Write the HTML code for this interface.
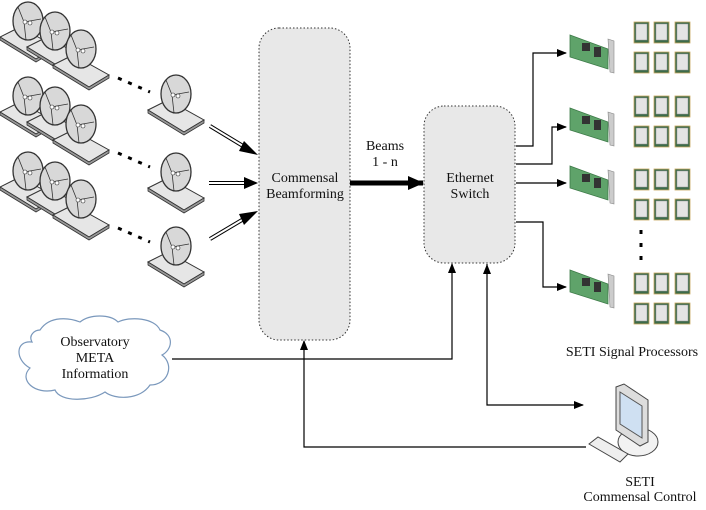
<!DOCTYPE html>
<html><head><style>body{margin:0;background:#fff}svg{display:block}text{font-family:"Liberation Serif",serif;font-size:14px;fill:#111}</style></head><body>
<svg width="706" height="510" viewBox="0 0 706 510" xmlns="http://www.w3.org/2000/svg">
<defs>
<marker id="ah" markerWidth="10" markerHeight="8" refX="9" refY="4" orient="auto" markerUnits="userSpaceOnUse"><path d="M0,0 L10,4 L0,8 z" fill="#000"/></marker>
<marker id="ahb" markerWidth="16" markerHeight="14" refX="15" refY="7" orient="auto" markerUnits="userSpaceOnUse"><path d="M0,0 L16,7 L0,14 z" fill="#000"/></marker>
<g id="dish">
<path d="M-28,12 L-8,2 L28,22 L8,34 z" fill="#e6e6e6" stroke="#333" stroke-width="1"/>
<path d="M-28,12 L-28,15 L8,37 L28,25 L28,22 L8,34 z" fill="#999" stroke="#333" stroke-width="0.8"/>
<ellipse cx="0" cy="-4" rx="15" ry="19" fill="#d8d8d8" stroke="#333" stroke-width="1.3"/>
<path d="M-4,-3 L-10,-18 M-4,-3 L13,-6 M-4,-3 L-2,15" stroke="#333" fill="none" stroke-width="0.8"/>
<circle cx="-3" cy="-3" r="2" fill="#fff" stroke="#333" stroke-width="0.6"/><circle cx="2" cy="-2" r="2" fill="#fff" stroke="#333" stroke-width="0.6"/>
</g>
<g id="grp"><use href="#dish" x="28" y="25"/><use href="#dish" x="55" y="35"/><use href="#dish" x="81" y="53"/>
<path d="M118,78 L150,92" stroke="#000" stroke-width="3" stroke-dasharray="4,7"/></g>
<g id="chip"><rect x="0" y="0" width="15" height="21" fill="#3c6b4a" stroke="#c9a860" stroke-width="0.8"/><rect x="2" y="2" width="11" height="16" fill="#e4e4e4" stroke="#999" stroke-width="0.5"/></g>
<g id="chips"><use href="#chip" x="0" y="0"/><use href="#chip" x="20" y="0"/><use href="#chip" x="41" y="0"/><use href="#chip" x="0" y="30"/><use href="#chip" x="20" y="30"/><use href="#chip" x="41" y="30"/></g>
<g id="card"><path d="M0,0 L38,14 L38,34 L0,22 z" fill="#5fa36a" stroke="#3d7a48" stroke-width="0.8"/><rect x="12" y="8" width="8" height="8" fill="#333"/><rect x="24" y="12" width="7" height="10" fill="#333"/><path d="M38,4 L44,6 L44,38 L40,37 z" fill="#ccc" stroke="#888" stroke-width="0.6"/></g>
</defs>

<use href="#grp" x="0" y="0"/><use href="#dish" x="176" y="98"/>
<use href="#grp" x="0" y="75"/><use href="#dish" x="176" y="176"/>
<use href="#grp" x="0" y="150"/><use href="#dish" x="176" y="250"/>

<g stroke="#000" stroke-width="4" fill="none"><path d="M210,126 L248,149"/><path d="M209,183 L246,183"/><path d="M210,239 L247,217"/></g>
<g stroke="#fff" stroke-width="2" fill="none"><path d="M210,126 L248,149"/><path d="M209,183 L246,183"/><path d="M210,239 L247,217"/></g>
<path d="M244,141 L258,155 L239,151 z M244,177 L258,183 L244,189 z M239,214 L258,211 L244,225 z" fill="#000"/>

<rect x="259" y="28" width="91" height="312" rx="20" fill="#e8e8e8" stroke="#333" stroke-dasharray="1.5,2"/>
<text x="305" y="182" text-anchor="middle">Commensal</text><text x="305" y="198" text-anchor="middle">Beamforming</text>
<text x="385" y="150" text-anchor="middle">Beams</text><text x="385" y="166" text-anchor="middle">1 - n</text>
<line x1="350" y1="183" x2="423" y2="183" stroke="#000" stroke-width="5" marker-end="url(#ahb)"/>
<rect x="424" y="106" width="91" height="157" rx="20" fill="#e8e8e8" stroke="#333" stroke-dasharray="1.5,2"/>
<text x="470" y="182" text-anchor="middle">Ethernet</text><text x="470" y="198" text-anchor="middle">Switch</text>

<g stroke="#000" stroke-width="1.2" fill="none">
<path d="M516,146 L533,146 L533,53 L566,53" marker-end="url(#ah)"/>
<path d="M516,164 L552,164 L552,127 L566,127" marker-end="url(#ah)"/>
<path d="M516,183 L566,183" marker-end="url(#ah)"/>
<path d="M516,222 L543,222 L543,287 L566,287" marker-end="url(#ah)"/>
<path d="M172,359 L452,359 L452,264" marker-end="url(#ah)"/>
<path d="M586,447 L304,447 L304,341" marker-end="url(#ah)"/>
<path d="M487,264 L487,405 L583,405" marker-end="url(#ah)"/>
</g>
<path d="M483,274 L487,264 L491,274 z" fill="#000"/>

<use href="#card" x="570" y="35"/><use href="#card" x="570" y="108"/><use href="#card" x="570" y="166"/><use href="#card" x="570" y="270"/>
<use href="#chips" x="634" y="22"/><use href="#chips" x="634" y="96"/><use href="#chips" x="634" y="169"/><use href="#chips" x="634" y="273"/>
<line x1="641" y1="230" x2="641" y2="266" stroke="#000" stroke-width="3" stroke-dasharray="4,9"/>
<text x="632" y="356" text-anchor="middle">SETI Signal Processors</text>

<path d="M40,330 C50,315 70,318 80,322 C90,314 110,314 118,322 C130,316 155,318 160,330 C175,335 172,350 162,355 C175,365 168,385 150,385 C140,400 115,400 105,392 C90,402 60,402 55,390 C35,395 18,380 30,368 C15,360 15,340 32,342 C28,335 35,330 40,330 z" fill="#fff" stroke="#7a98bc" stroke-width="1.2"/>
<text x="95" y="346" text-anchor="middle">Observatory</text><text x="95" y="362" text-anchor="middle">META</text><text x="95" y="378" text-anchor="middle">Information</text>

<ellipse cx="638" cy="442" rx="20" ry="14" fill="#f2f2f2" stroke="#444"/>
<path d="M616,387 L624,384 L648,400 L648,442 L640,446 L616,430 z" fill="#ddd" stroke="#444"/>
<path d="M620,392 L642,406 L642,438 L620,424 z" fill="#cfe0f2" stroke="#555"/>
<path d="M589,444 L598,437 L628,454 L620,462 z" fill="#eee" stroke="#444"/>
<text x="640" y="486" text-anchor="middle">SETI</text><text x="640" y="501" text-anchor="middle">Commensal Control</text>
</svg>
</body></html>
